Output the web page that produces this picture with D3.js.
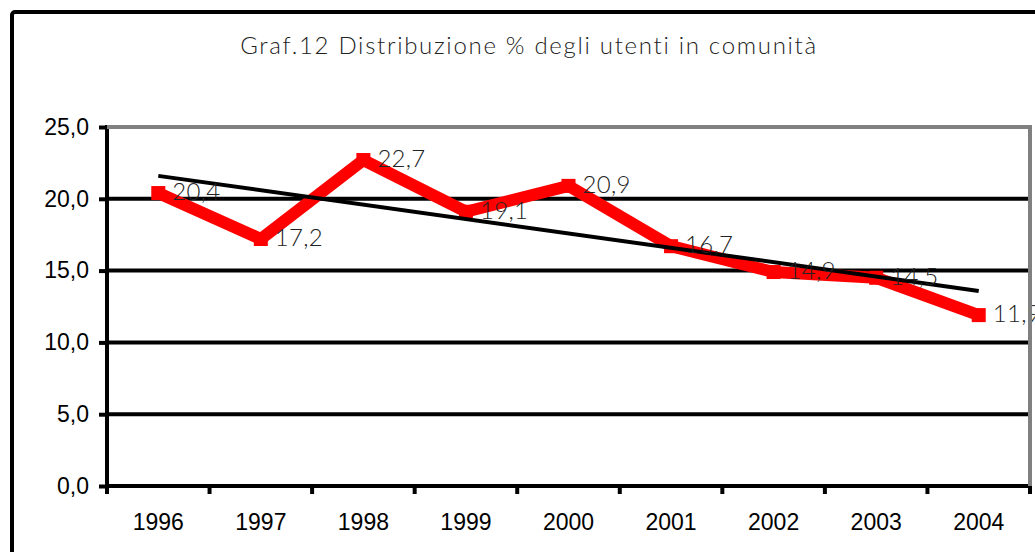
<!DOCTYPE html>
<html><head><meta charset="utf-8">
<script src="https://cdn.jsdelivr.net/npm/d3@7/dist/d3.min.js"></script>
<style>html,body{margin:0;padding:0;background:#fff;overflow:hidden}</style>
</head><body>
<svg id="c" width="1035" height="552"></svg>
<script>
const title = "Graf.12 Distribuzione % degli utenti in comunità";
const years = ["1996","1997","1998","1999","2000","2001","2002","2003","2004"];
const values = [20.4,17.2,22.7,19.1,20.9,16.7,14.9,14.5,11.9];
const yTicks = [0,5,10,15,20,25];

const svg = d3.select("#c");
const L = 107, R = 1030, T = 127, B = 486;
const x = d3.scaleBand().domain(years).range([L, R]).padding(0);
const y = d3.scaleLinear().domain([0, 25]).range([B, T]);
const cx = d => x(d) + x.bandwidth()/2;
const fmt = v => d3.format(".1f")(v).replace(".", ",");

svg.append("rect").attr("x",0).attr("y",0).attr("width",1035).attr("height",552).attr("fill","#fff");
// outer frame
svg.append("rect").attr("x",12).attr("y",12).attr("width",1060).attr("height",600)
  .attr("rx",3).attr("fill","none").attr("stroke","#000").attr("stroke-width",4);

// title
svg.append("text").attr("x",529).attr("y",48).attr("text-anchor","middle")
  .attr("dominant-baseline","middle")
  .style("font-family","Lato, 'Open Sans', sans-serif").style("font-weight",300)
  .style("letter-spacing","1.7px")
  .style("font-size","24px").attr("fill","#222").text(title);

// gridlines
svg.append("g").selectAll("line").data(yTicks.filter(t => t>0 && t<25)).join("line")
  .attr("x1",L).attr("x2",R-2).attr("y1",d=>y(d)).attr("y2",d=>y(d))
  .attr("stroke","#000").attr("stroke-width",4);

// y axis
const yAxis = svg.append("g").attr("transform",`translate(${L},0)`)
  .call(d3.axisLeft(y).tickValues(yTicks).tickSize(8).tickPadding(10).tickFormat(fmt));
yAxis.select(".domain").attr("stroke","#000").attr("stroke-width",4)
  .attr("d",`M0,${T-2}V${B+2}`);
yAxis.selectAll(".tick line").attr("stroke","#000").attr("stroke-width",4);
yAxis.selectAll(".tick text").style("font-family","'Liberation Sans', Arial, sans-serif")
  .style("font-size","23px").attr("fill","#000");

// x axis
const xAxis = svg.append("g").attr("transform",`translate(0,${B})`)
  .call(d3.axisBottom(x).tickSize(0).tickPadding(28));
xAxis.select(".domain").attr("stroke","#000").attr("stroke-width",4).attr("d",`M${L-2},0H${R+2}`);
xAxis.selectAll(".tick text").style("font-family","'Liberation Sans', Arial, sans-serif")
  .style("font-size","23px").attr("fill","#000");
svg.append("g").selectAll("line").data(years.concat(["end"])).join("line")
  .attr("x1",(d,i)=>L + i*x.bandwidth()).attr("x2",(d,i)=>L + i*x.bandwidth())
  .attr("y1",B).attr("y2",B+8).attr("stroke","#000").attr("stroke-width",4);

// red series
const pts = years.map((yr,i)=>({yr, v: values[i]}));
svg.append("path").datum(pts)
  .attr("d", d3.line().x(d=>cx(d.yr)).y(d=>y(d.v)))
  .attr("fill","none").attr("stroke","#ff0000").attr("stroke-width",12)
  .attr("stroke-linejoin","miter");
svg.append("g").selectAll("rect").data(pts).join("rect")
  .attr("x",d=>cx(d.yr)-7).attr("y",d=>y(d.v)-7).attr("width",14).attr("height",14)
  .attr("fill","#ff0000");

// linear trend (least squares on the data)
const n = values.length, idx = d3.range(n);
const mx = d3.mean(idx), my = d3.mean(values);
const slope = d3.sum(idx, i => (i-mx)*(values[i]-my)) / d3.sum(idx, i => (i-mx)*(i-mx));
const icpt = my - slope*mx;
svg.append("line")
  .attr("x1",cx(years[0])).attr("y1",y(icpt))
  .attr("x2",cx(years[n-1])).attr("y2",y(icpt + slope*(n-1)))
  .attr("stroke","#000").attr("stroke-width",4);

// data labels
svg.append("g").selectAll("text").data(pts).join("text")
  .attr("x",d=>cx(d.yr)+14).attr("y",d=>y(d.v)+1)
  .attr("dominant-baseline","middle")
  .style("font-family","Lato, 'Open Sans', sans-serif").style("font-weight",300)
  .style("letter-spacing","0.3px")
  .style("font-size","24px").attr("fill","#222").text(d=>fmt(d.v));

// plot border (gray top & right)
svg.append("line").attr("x1",L).attr("x2",R).attr("y1",y(25)).attr("y2",y(25))
  .attr("stroke","#808080").attr("stroke-width",4);
svg.append("line").attr("x1",R).attr("x2",R).attr("y1",T-2).attr("y2",B)
  .attr("stroke","#808080").attr("stroke-width",4);
</script>
</body></html>
